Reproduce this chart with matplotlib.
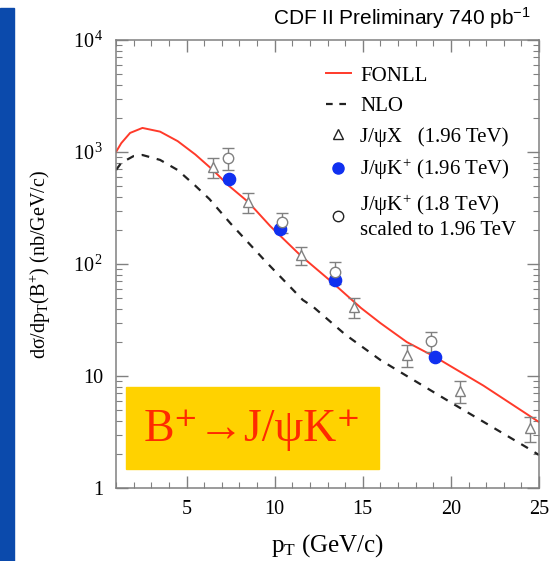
import numpy as np
import matplotlib.pyplot as plt
from matplotlib.lines import Line2D
from matplotlib.patches import Rectangle

plt.rcParams['font.family'] = ['Liberation Serif', 'DejaVu Serif']
plt.rcParams['mathtext.fontset'] = 'custom'
plt.rcParams['mathtext.rm'] = 'Liberation Serif'
plt.rcParams['mathtext.it'] = 'Liberation Serif:italic'
plt.rcParams['mathtext.bf'] = 'Liberation Serif:bold'

# theory curves
fonll_pt = [1, 1.3, 1.8, 2.5, 3.5, 4.5, 5.5, 6.5, 7.4, 8.5, 9.75, 11.5, 13.2, 14.9, 16, 17.5, 19.1, 21.85, 25]
fonll = [1000, 1200, 1480, 1640, 1520, 1250, 950, 690, 500, 358, 218, 118, 70, 40.5, 29.7, 20.1, 14.8, 8.2, 3.88]
nlo_pt = [1, 1.3, 2.0, 2.5, 3.5, 4.5, 5.5, 6.3, 7.5, 9.5, 11.6, 12.2, 14, 16, 17.5, 20, 24.35, 25]
nlo = [690, 800, 920, 940, 850, 690, 500, 380, 230, 105, 47.7, 41.3, 23.5, 13.9, 10, 5.8, 2.28, 1.97]

# data
jpsix_pt = [6.5, 8.5, 11.5, 14.5, 17.5, 20.5, 24.5]
jpsix = [735, 358, 120, 41.3, 15.4, 7.35, 3.43]
jpsix_err = [0.2, 0.2, 0.18, 0.2, 0.22, 0.22, 0.25]

jpsik_pt = [7.4, 10.3, 13.4, 19.1]
jpsik = [574, 205, 72, 14.8]

run1_pt = [7.35, 10.4, 13.4, 18.9]
run1 = [884, 237, 85, 20.5]
run1_err = [0.22, 0.2, 0.22, 0.2]

fig = plt.figure(figsize=(5.5, 5.61), dpi=100)
fig.patches.append(Rectangle((0, 0), 14 / 550, 553 / 561, transform=fig.transFigure,
                             color='#0B4AAC', zorder=0))
ax = fig.add_axes([116 / 550, 1 - 488 / 561, 423 / 550, 448 / 561])

red = '#FF3A2A'
ax.plot(fonll_pt, fonll, color=red, lw=1.4)
ax.plot(nlo_pt, nlo, color='#222222', lw=1.6, ls=(0, (3.5, 3.5)))

gray = '#808080'
ax.errorbar(jpsix_pt, jpsix, yerr=np.array(jpsix) * np.array(jpsix_err),
            fmt='^', ms=7.5, mfc='white', mec=gray, ecolor=gray, elinewidth=1, capsize=4, mew=1)
ax.errorbar(run1_pt, run1, yerr=np.array(run1) * np.array(run1_err),
            fmt='o', ms=7.5, mfc='white', mec=gray, ecolor=gray, elinewidth=1, capsize=4, mew=1)
ax.plot(jpsik_pt, jpsik, 'o', ms=8.8, color='#1030F0')

ax.set_yscale('log')
ax.set_xlim(1, 25)
ax.set_ylim(1, 1e4)
ax.set_xticks([5, 10, 15, 20, 25])
ax.set_xticks(np.arange(1, 26, 1), minor=True)
ax.set_yticks([1, 10, 100, 1000, 10000])
ax.set_yticklabels(['1', '10', r'10$^{\,2}$', r'10$^{\,3}$', r'10$^{\,4}$'])
ax.tick_params(which='both', direction='in', top=True, right=True, color=gray, labelsize=14.5)
ax.tick_params(which='major', length=8.5, width=1, pad=9)
ax.tick_params(which='minor', length=4.3, width=0.8)
for s in ax.spines.values():
    s.set_color(gray)
    s.set_linewidth(1.1)

ax.set_xlabel(r'p$_{\mathrm{T}}$ (GeV/c)', fontsize=18, labelpad=9)
ax.set_ylabel(r'dσ/dp$_{\mathrm{T}}$(B$^{+}$) (nb/GeV/c)', fontsize=14.5, labelpad=14)

handles = [
    Line2D([], [], color=red, lw=1.4),
    Line2D([], [], color='#222222', lw=1.6, ls=(0, (3, 3))),
    Line2D([], [], marker='^', ls='none', ms=7.5, mfc='white', mec='#222222'),
    Line2D([], [], marker='o', ls='none', ms=8, color='#1030F0'),
    Line2D([], [], marker='o', ls='none', ms=7.5, mfc='white', mec='#222222'),
]
labels = ['FONLL', 'NLO', r'J/ψX   (1.96 TeV)', 'J/ψK$^{+}$ (1.96 TeV)',
          'J/ψK$^{+}$ (1.8 TeV)\nscaled to 1.96 TeV']
ax.legend(handles, labels, loc='upper left', bbox_to_anchor=(0.466, 0.97), frameon=False,
          fontsize=15, handlelength=1.2, handletextpad=0.45, labelspacing=0.52,
          borderaxespad=0.2)

# yellow label box
ax.add_patch(Rectangle((126 / 550, 1 - 469 / 561), 253 / 550, 82 / 561,
                       transform=fig.transFigure, color='#FFD200', zorder=5, clip_on=False))
fig.text(252 / 550, 1 - 430 / 561, 'B⁺→J/ψK⁺', color='#FF2A00', fontsize=33,
         ha='center', va='center', zorder=6)

fig.text(531 / 550, 1 - 18 / 561, r'CDF II Preliminary 740 pb$^{\mathregular{-1}}$',
         family='Liberation Sans', fontsize=15, ha='right', va='center')

fig.savefig('out.png', dpi=100)
